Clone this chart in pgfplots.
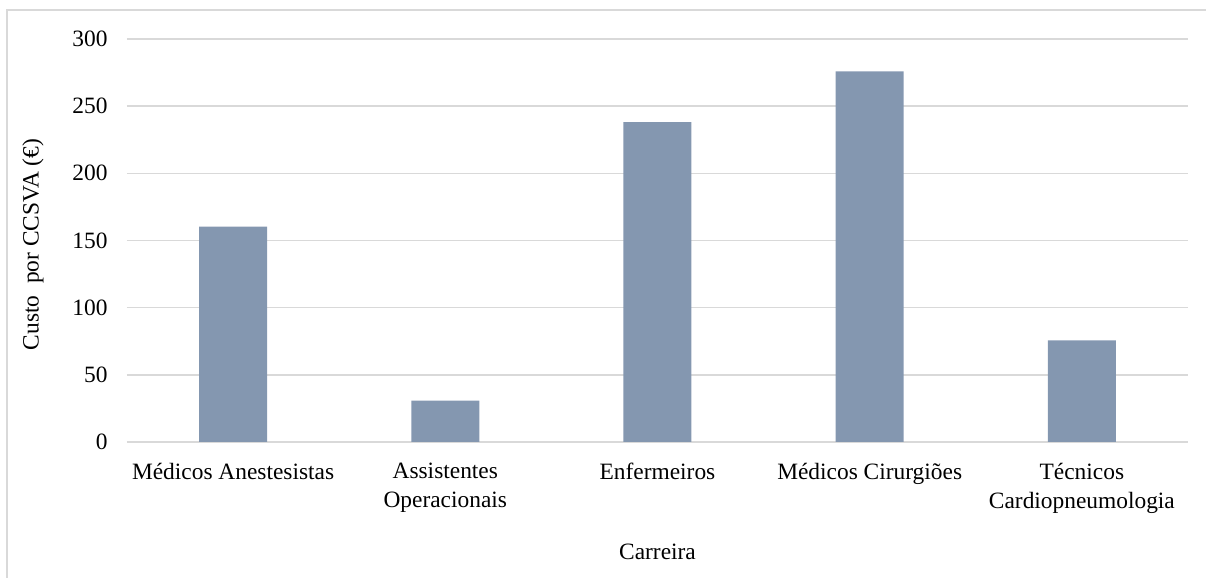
\documentclass[border=0pt]{standalone}
\usepackage{fontspec}
\setmainfont{Liberation Serif}
\usepackage{pgfplots}
\pgfplotsset{compat=1.18}
\definecolor{barblue}{HTML}{8497B0}
\definecolor{gridgray}{HTML}{D9D9D9}
\begin{document}
\fontsize{11.7}{14.5}\selectfont
\begin{tikzpicture}
\useasboundingbox (0,0) rectangle (603pt,289pt);
% chart area frame
\draw[gridgray, line width=0.6pt] (3.5pt,-10pt) -- (3.5pt,284pt) -- (620pt,284pt);
\begin{axis}[
  at={(63.5pt,68pt)}, anchor=south west,
  scale only axis, width=530.5pt, height=201.5pt,
  xmin=-0.5, xmax=4.5, ymin=0, ymax=300,
  ytick={0,50,...,300},
  xtick={0,1,2,3,4},
  xticklabels={Médicos Anestesistas, {Assistentes\\Operacionais}, Enfermeiros, Médicos Cirurgiões, {Técnicos\\Cardiopneumologia}},
  axis x line*=bottom, axis y line*=left,
  axis line style={draw=none},
  major tick length=0pt,
  ymajorgrids, grid style={gridgray, line width=0.75pt},
  /pgf/number format/assume math mode=true,
  ticklabel style={font=\fontsize{11.7}{14.5}\selectfont},
  yticklabel style={anchor=east, inner sep=0pt, xshift=-9.5pt},
  xticklabel style={anchor=north, inner sep=0pt, yshift=-10.5pt, align=center},
  ylabel={Custo~\ por CCSVA (€)},
  % the label is rotated, so yshift moves it left and xshift moves it along the axis
  ylabel style={at={(axis description cs:0,0.5)}, anchor=center, yshift=47pt, xshift=-2pt, font=\fontsize{11.7}{14.5}\selectfont},
  xlabel={Carreira},
  xlabel style={at={(axis description cs:0.5,0)}, anchor=base, yshift=-59pt, font=\fontsize{11.7}{14.5}\selectfont},
]
\addplot[ybar, bar width=34pt, fill=barblue, draw=none] coordinates {
  (0,160.4) (1,30.8) (2,238.1) (3,275.9) (4,75.7)
};
\end{axis}
\end{tikzpicture}
\end{document}
